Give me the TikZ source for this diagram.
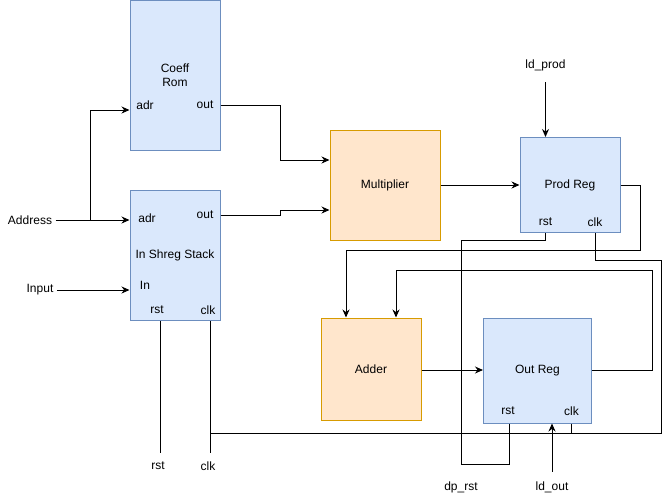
\documentclass[tikz,border=0pt]{standalone}
\usepackage{fontspec}
\setmainfont{Liberation Sans}
\usepackage{tikz}
\usetikzlibrary{arrows.meta}

\begin{document}
\begin{tikzpicture}[x=1pt, y=-1pt, font=\fontsize{12}{14}\selectfont,
  reg/.style={draw={rgb,255:red,108;green,142;blue,191}, fill={rgb,255:red,218;green,232;blue,252}, line width=1pt, align=center},
  unit/.style={draw={rgb,255:red,215;green,155;blue,0}, fill={rgb,255:red,255;green,230;blue,204}, line width=1pt, align=center},
  wire/.style={line width=1pt, black},
  feed/.style={wire, -{Stealth[length=8pt,width=7pt]}}]
\useasboundingbox (0,0) rectangle (662,501);
\node[reg, minimum width=90pt, minimum height=150pt] (rom) at (175,75) {Coeff\\Rom};
\node[reg, minimum width=90pt, minimum height=130pt] (stack) at (175,255.5) {In Shreg Stack};
\node[unit, minimum width=110pt, minimum height=110pt] (mult) at (385,185) {Multiplier};
\node[reg, minimum width=100pt, minimum height=95pt] (prod) at (570,185) {Prod Reg};
\node[unit, minimum width=100pt, minimum height=102pt] (adder) at (371,369) {Adder};
\node[reg, minimum width=108pt, minimum height=105pt] (outreg) at (537.5,370.5) {Out Reg};
\node (rom-adr) at (145,105) {adr};
\node (rom-out) at (205,105) {out};
\node (stack-adr) at (147,218) {adr};
\node (stack-out) at (205,215) {out};
\node (stack-in) at (145,285) {In};
\node (stack-rst) at (157,310) {rst};
\node (stack-clk) at (208,310) {clk};
\node (prod-rst) at (545.5,222) {rst};
\node (prod-clk) at (595,222) {clk};
\node (outreg-rst) at (508,411) {rst};
\node (outreg-clk) at (571.5,411) {clk};
\node (addr) at (30,220) {Address};
\node (input) at (40,290) {Input};
\node (ldprod) at (545.5,65) {ld\_prod};
\node (rst) at (158,466) {rst};
\node (clk) at (208,466) {clk};
\node (dprst) at (461,487) {dp\_rst};
\node (ldout) at (552,487) {ld\_out};
\coordinate (addr-split) at (90,220);
\draw[feed] (addr) -- (stack.west |- addr);
\draw[feed] (addr-split) |- (rom.west |- 0,110);
\draw[feed] (input) -- (stack.west |- input);
\draw[feed] (rom.east |- rom-out) -| (280,160) -- (mult.west |- 0,160);
\draw[feed] (stack.east |- 0,215) -| (280,210) -- (mult.west |- 0,210);
\draw[feed] (mult) -- (prod);
\draw[feed] (ldprod.south) ++(0,8) -- (prod.north -| ldprod);
\draw[feed] (prod.east) -| (640,250) -| ([xshift=-25pt]adder.north);
\draw[feed] (outreg.east |- 0,370) -| (652,270) -| ([xshift=25pt]adder.north);
\draw[feed] (adder.east |- 0,370) -- (outreg.west |- 0,370);
\draw[feed] (ldout.north) ++(0,-6) -- (outreg.south -| ldout);
\draw[wire] (prod.south -| prod-rst) |- (461,240) |- (509,464) -- (outreg.south -| 509,0);
\draw[wire] (prod.south -| prod-clk) |- (661,260) |- (210,433);
\draw[wire] (outreg.south -| outreg-clk) -- (outreg-clk |- 0,433);
\draw[wire] (stack.south -| 160.5,0) -- (160.5,453);
\draw[wire] (stack.south -| 210,0) -- (210,453);
\end{tikzpicture}
\end{document}
